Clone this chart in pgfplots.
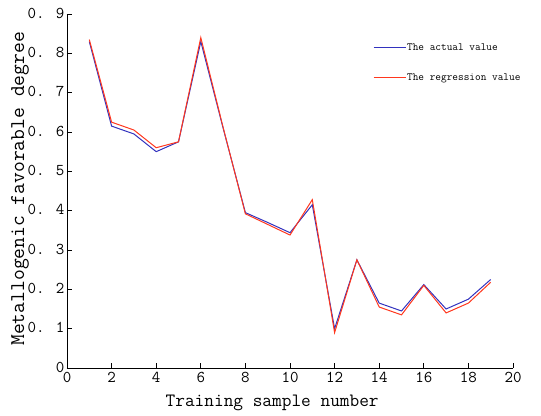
\documentclass[border=0pt]{standalone}
\usepackage{pgfplots}
\pgfplotsset{compat=1.18}
\definecolor{actblue}{RGB}{50,50,190}
\definecolor{regred}{RGB}{255,55,30}
\begin{document}
\ttfamily
\begin{tikzpicture}
\begin{axis}[
  name=ax,
  scale only axis,
  width=446pt, height=354pt,
  xmin=0, xmax=20, ymin=0, ymax=0.9,
  axis x line*=bottom, axis y line*=left,
  axis line style={-, line width=0.9pt},
  tick style={line width=0.8pt, black},
  tick align=inside,
  major tick length=5pt,
  xtick={0,2,...,20},
  xticklabels={0,2,4,6,8,10,12,14,16,18,20},
  ytick={0,0.1,0.2,0.3,0.4,0.5,0.6,0.7,0.8,0.9},
  yticklabels={0,0. 1,0. 2,0. 3,0. 4,0. 5,0. 6,0. 7,0. 8,0. 9},
  tick label style={font=\ttfamily\fontsize{16.5}{18}\selectfont},
  xticklabel style={yshift=-1pt},
  yticklabel style={xshift=1pt, yshift=1pt},
  xlabel={Training sample number},
  ylabel={Metallogenic favorable degree},
  xlabel style={font=\ttfamily\fontsize{18.8}{20}\selectfont, at={(axis description cs:0.46,-0.1)}, anchor=center},
  ylabel style={font=\ttfamily\fontsize{21}{22}\selectfont, at={(axis description cs:-0.105,0.506)}, anchor=center, rotate=0},
  legend style={draw=none, fill=none, at={(axis description cs:0.686,0.92)}, anchor=north west,
    font=\ttfamily\fontsize{11}{12}\selectfont, inner sep=0pt, row sep=20pt, nodes={inner sep=1pt}},
  legend cell align=left,
  legend image code/.code={\draw[#1] (0pt,0pt) -- (32pt,0pt);},
]
\addplot[actblue, line width=1pt] coordinates {
(1,0.830) (2,0.615) (3,0.595) (4,0.550) (5,0.575) (6,0.830) (7,0.610)
(8,0.395) (9,0.370) (10,0.344) (11,0.415) (12,0.100) (13,0.275)
(14,0.165) (15,0.145) (16,0.212) (17,0.150) (18,0.175) (19,0.225)};
\addlegendentry{The actual value}
\addplot[regred, line width=1pt] coordinates {
(1,0.835) (2,0.625) (3,0.605) (4,0.560) (5,0.575) (6,0.840) (7,0.612)
(8,0.392) (9,0.365) (10,0.338) (11,0.428) (12,0.090) (13,0.275)
(14,0.155) (15,0.135) (16,0.210) (17,0.140) (18,0.165) (19,0.218)};
\addlegendentry{The regression value}
\end{axis}
\path[use as bounding box] ([shift={(-67pt,-48pt)}]ax.south west) rectangle ([shift={(28pt,14pt)}]ax.north east);
\end{tikzpicture}
\end{document}
